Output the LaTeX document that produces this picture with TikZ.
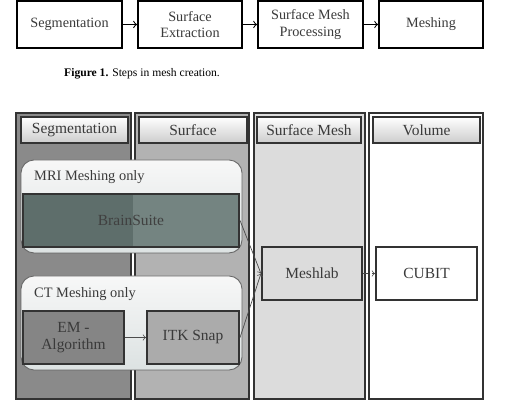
\documentclass[tikz,border=0pt]{standalone}
\usepackage{fontspec}
\setmainfont{Liberation Serif}
\usetikzlibrary{positioning}
\definecolor{colA}{HTML}{8A8A8A}
\definecolor{colB}{HTML}{B2B2B2}
\definecolor{colC}{HTML}{DCDCDC}
\definecolor{edgegray}{HTML}{333333}
\definecolor{grpfill}{HTML}{DCE2E2}
\definecolor{brainfill}{HTML}{2A4C47}
\definecolor{inktext}{HTML}{3A3A3A}
\tikzset{
  stepbox/.style={draw=black,line width=1.1pt,fill=white,minimum width=2.08cm,
    minimum height=0.94cm,align=center,font=\fontsize{8.1}{9.4}\selectfont,text=inktext},
  headbox/.style={draw=edgegray,line width=0.6pt,top color=white,bottom color=black!20,
    minimum height=0.52cm,font=\fontsize{8.8}{10}\selectfont,text=inktext},
  toolbox/.style={draw=edgegray,line width=1.2pt,minimum height=1.06cm,align=center,
    font=\fontsize{8.8}{10}\selectfont,text=inktext},
  column/.style={draw=edgegray,line width=1pt},
  group/.style={draw=black!60,line width=0.5pt,rounded corners=0.26cm,top color=black!3,bottom color=grpfill},
  grouplabel/.style={anchor=west,font=\fontsize{8.2}{9.4}\selectfont,text=inktext},
  link/.style={draw=black!70,line width=0.4pt}
}
\begin{document}
\begin{tikzpicture}[x=0.02cm,y=-0.02cm]
  \useasboundingbox (0,0) rectangle (513,404);
  % Figure 1: steps
  \node[stepbox,minimum width=2.1cm] (seg) at (69.5,24.5) {Segmentation};
  \node[stepbox] (ext) at (190,24.5) {Surface\\Extraction};
  \node[stepbox,minimum width=2.1cm] (proc) at (310.5,24.5) {Surface Mesh\\Processing};
  \node[stepbox] (mesh) at (431,24.5) {Meshing};
  \draw[->,line width=0.6pt] (seg) -- (ext);
  \draw[->,line width=0.6pt] (ext) -- (proc);
  \draw[->,line width=0.6pt] (proc) -- (mesh);
  \node[anchor=west,font=\fontsize{6.6}{7.5}\selectfont] (cap) at (58,74)
    {\textbf{Figure 1.} Steps in mesh creation.};
  % Figure 2: columns
  \draw[column,fill=colA] (16,113) rectangle (131,399);
  \draw[column,fill=colB] (135,113) rectangle (249,399);
  \draw[column,fill=colC] (254,113) rectangle (365,399);
  \draw[column,fill=white] (369,113) rectangle (483,399);
  \node[headbox,minimum width=2.14cm] (hseg) at (74.5,130) {Segmentation};
  \node[headbox,minimum width=2.16cm] (hsurf) at (193,130) {Surface};
  \node[headbox,minimum width=2.08cm] (hsm) at (309,130) {Surface Mesh};
  \node[headbox,minimum width=2.14cm] (hvol) at (426.5,130) {Volume};
  % MRI group; BrainSuite lets the column tones through
  \draw[group] (21,160) rectangle (242,253);
  \node[grouplabel] (mri) at (28,177) {MRI Meshing only};
  \fill[colA] (23,194) rectangle (133,247);
  \fill[colB] (133,194) rectangle (239,247);
  \node[toolbox,fill=brainfill,fill opacity=0.45,text opacity=1,minimum width=4.32cm,
    text=black!75] (brain) at (131,220.5) {BrainSuite};
  % CT group
  \draw[group] (21,276) rectangle (242,370);
  \node[grouplabel] (ct) at (28,294) {CT Meshing only};
  \node[toolbox,fill=black!48,minimum width=2.02cm] (em) at (73.5,337.5) {EM -\\Algorithm};
  \node[toolbox,fill=black!33,minimum width=1.84cm] (itk) at (193,337.5) {ITK Snap};
  % later stages
  \node[toolbox,fill=colC,minimum width=2.0cm] (meshlab) at (312,273.5) {Meshlab};
  \node[toolbox,fill=white,minimum width=2.02cm] (cubit) at (426.5,273.5) {CUBIT};
  \draw[link,->] (em) -- (itk);
  \draw[link,->] (brain.east) -- (meshlab.west);
  \draw[link,->] (itk.east) -- (meshlab.west);
  \draw[link,->,densely dashed] (meshlab) -- (cubit);
\end{tikzpicture}
\end{document}
